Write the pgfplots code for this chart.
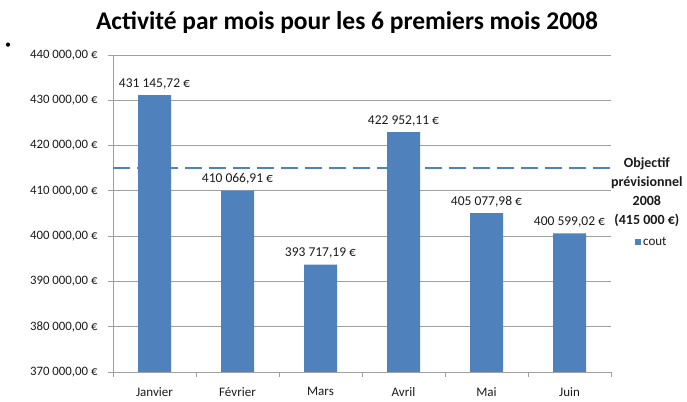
\documentclass[border=0pt]{standalone}
\usepackage{fontspec}
\setmainfont{Carlito}
\usepackage{pgfplots}
\pgfplotsset{compat=1.18}
\definecolor{barblue}{HTML}{4F81BD}
\definecolor{gridc}{HTML}{A0A0A0}
\definecolor{txt}{HTML}{1A1A1A}
\begin{document}
\begin{tikzpicture}
\useasboundingbox (0,0) rectangle (687pt,401pt);
\node[font=\fontsize{12}{12}\selectfont, inner sep=0pt] at (8pt,355pt) {•};
\begin{axis}[
  at={(113pt,29pt)}, anchor=south west,
  scale only axis, width=498pt, height=317pt,
  xmin=-0.5, xmax=5.5, ymin=370000, ymax=440000,
  clip=false,
  scaled y ticks=false,
  axis x line*=bottom, axis y line*=left,
  axis line style={gridc, line width=0.8pt, -},
  xtick={0,1,2,3,4,5},
  xticklabels={Janvier,Février,Mars,Avril,Mai,Juin},
  major x tick style={draw=none},
  minor xtick={-0.5,0.5,1.5,2.5,3.5,4.5,5.5},
  minor x tick style={gridc, line width=0.8pt},
  minor tick length=5pt, major tick length=5pt,
  tick align=outside,
  ytick={370000,380000,390000,400000,410000,420000,430000,440000},
  yticklabels={{370 000,00 €},{380 000,00 €},{390 000,00 €},{400 000,00 €},{410 000,00 €},{420 000,00 €},{430 000,00 €},{440 000,00 €}},
  y tick style={gridc, line width=0.8pt},
  ymajorgrids, grid style={gridc, line width=0.8pt},
  yticklabel style={font=\fontsize{12.8}{14}\selectfont, text=txt, xshift=-7pt},
  xticklabel style={font=\fontsize{13}{15}\selectfont, text=txt, yshift=-7pt},
  title={Activité par mois pour les 6 premiers mois 2008},
  title style={font=\bfseries\fontsize{25.5}{30}\selectfont, at={(axis description cs:0.47,1.083)}, anchor=center},
  legend style={at={(axis description cs:1.048,0.41)}, anchor=west, draw=none, fill=none,
    font=\fontsize{13}{15}\selectfont, inner sep=0pt, text=txt},
  legend image code/.code={\fill[barblue] (0pt,-3pt) rectangle (6pt,3pt);},
]
\addplot[barblue, line width=2pt, dash pattern=on 17pt off 7pt, forget plot]
  coordinates {(-0.5,415000) (5.55,415000)};
\addplot[ybar, bar width=33pt, fill=barblue, draw=none,
  point meta=explicit symbolic,
  nodes near coords,
  nodes near coords style={font=\fontsize{13.5}{15}\selectfont, text=txt, anchor=south, yshift=2.5pt}]
  coordinates {
    (0,431145.72) [431 145{,}72 €]
    (1,410066.91) [410 066{,}91 €]
    (2,393717.19) [393 717{,}19 €]
    (3,422952.11) [422 952{,}11 €]
    (4,405077.98) [405 077{,}98 €]
    (5,400599.02) [400 599{,}02 €]
  };
\addlegendentry{cout}
\node[align=center, anchor=north, inner sep=0pt, font=\bfseries\fontsize{14}{19}\selectfont, text=txt]
  at (axis description cs:1.072,0.678) {Objectif\\prévisionnel\\2008\\(415 000 €)};
\end{axis}
\end{tikzpicture}
\end{document}
